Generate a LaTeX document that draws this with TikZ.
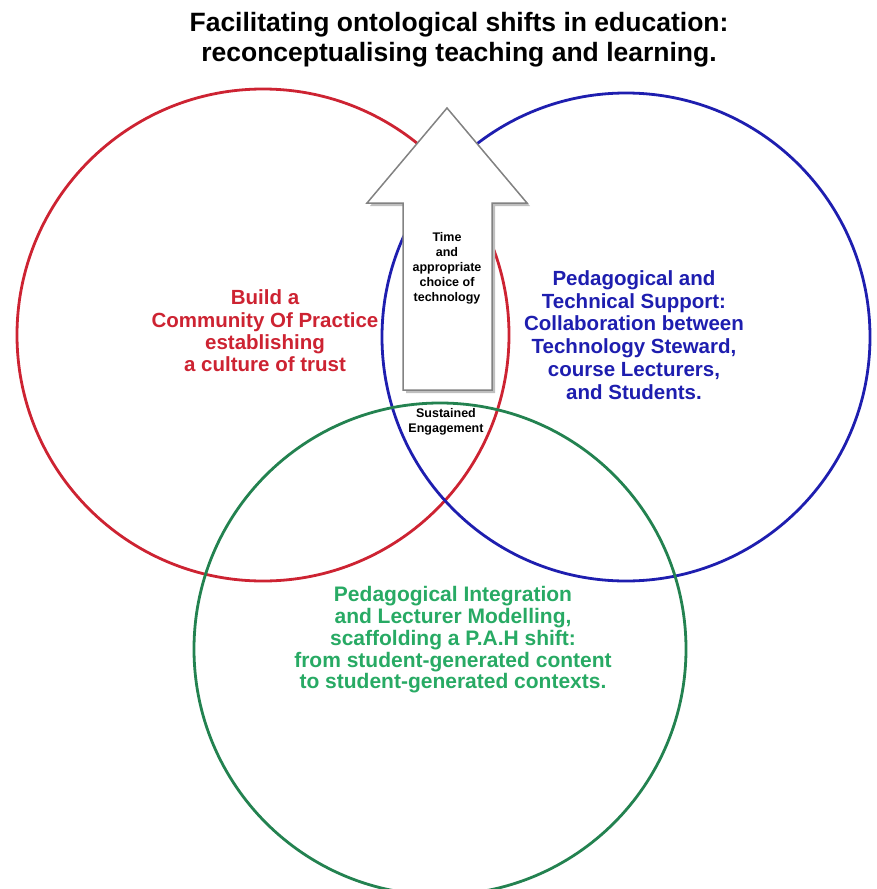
\documentclass[tikz,border=0pt]{standalone}
\usepackage{fontspec}
\setmainfont{Liberation Sans}
\usepackage{tikz}
\definecolor{ringred}{RGB}{205,35,50}
\definecolor{ringblue}{RGB}{30,30,175}
\definecolor{ringgreen}{RGB}{35,130,80}
\definecolor{textgreen}{RGB}{40,170,100}
\definecolor{arrowgrey}{RGB}{130,130,130}

\begin{document}
\begin{tikzpicture}[x=1pt,y=1pt,yscale=-1,xscale=1,
    ring/.style={line width=2.8},
    lbl/.style={align=center,font=\bfseries},
    arrtext/.style={align=center,font=\bfseries\fontsize{12.5}{15}\selectfont}]
    \useasboundingbox (0,0) rectangle (876,889);

    %Shape: Circle [red]
    \draw [ring,color=ringred] (263,335) circle (246) ;
    %Shape: Circle [blue]
    \draw [ring,color=ringblue] (626,337) circle (244) ;
    %Shape: Circle [green]
    \draw [ring,color=ringgreen] (440,649) circle (246) ;

    %Shape: Up Arrow (shadow)
    \fill [black!25] (450,111) -- (530,206) -- (495,206) -- (495,393) -- (406,393) -- (406,206) -- (370,206) -- cycle ;
    %Shape: Up Arrow
    \draw [color=arrowgrey,fill=white,line width=1.5] (447,108) -- (527,203) -- (492,203) -- (492,390) -- (403,390) -- (403,203) -- (367,203) -- cycle ;

    % Text Node
    \draw (459,40) node [lbl,font=\bfseries\fontsize{26.5}{30}\selectfont] (title) {Facilitating ontological shifts in education:\\reconceptualising teaching and learning.};
    % Text Node
    \draw (447,268) node [arrtext] (timetext) {Time\\and\\appropriate\\choice of\\technology};
    % Text Node
    \draw (446,422) node [arrtext,font=\bfseries\fontsize{12.5}{15.5}\selectfont] (engage) {Sustained\\Engagement};
    % Text Node
    \draw (265,331) node [lbl,text=ringred,font=\bfseries\fontsize{20.5}{22.3}\selectfont] (cop) {Build a\\Community Of Practice\\establishing\\a culture of trust};
    % Text Node
    \draw (634,335) node [lbl,text=ringblue,font=\bfseries\fontsize{20.5}{22.7}\selectfont] (support) {Pedagogical and\\Technical Support:\\Collaboration between\\Technology Steward,\\course Lecturers,\\and Students.};
    % Text Node
    \draw (453,640) node [lbl,text=textgreen,font=\bfseries\fontsize{21}{21.7}\selectfont] (integr) {Pedagogical Integration\\and Lecturer Modelling,\\scaffolding a P.A.H shift:\\from student-generated content\\to student-generated contexts.};

\end{tikzpicture}
\end{document}
